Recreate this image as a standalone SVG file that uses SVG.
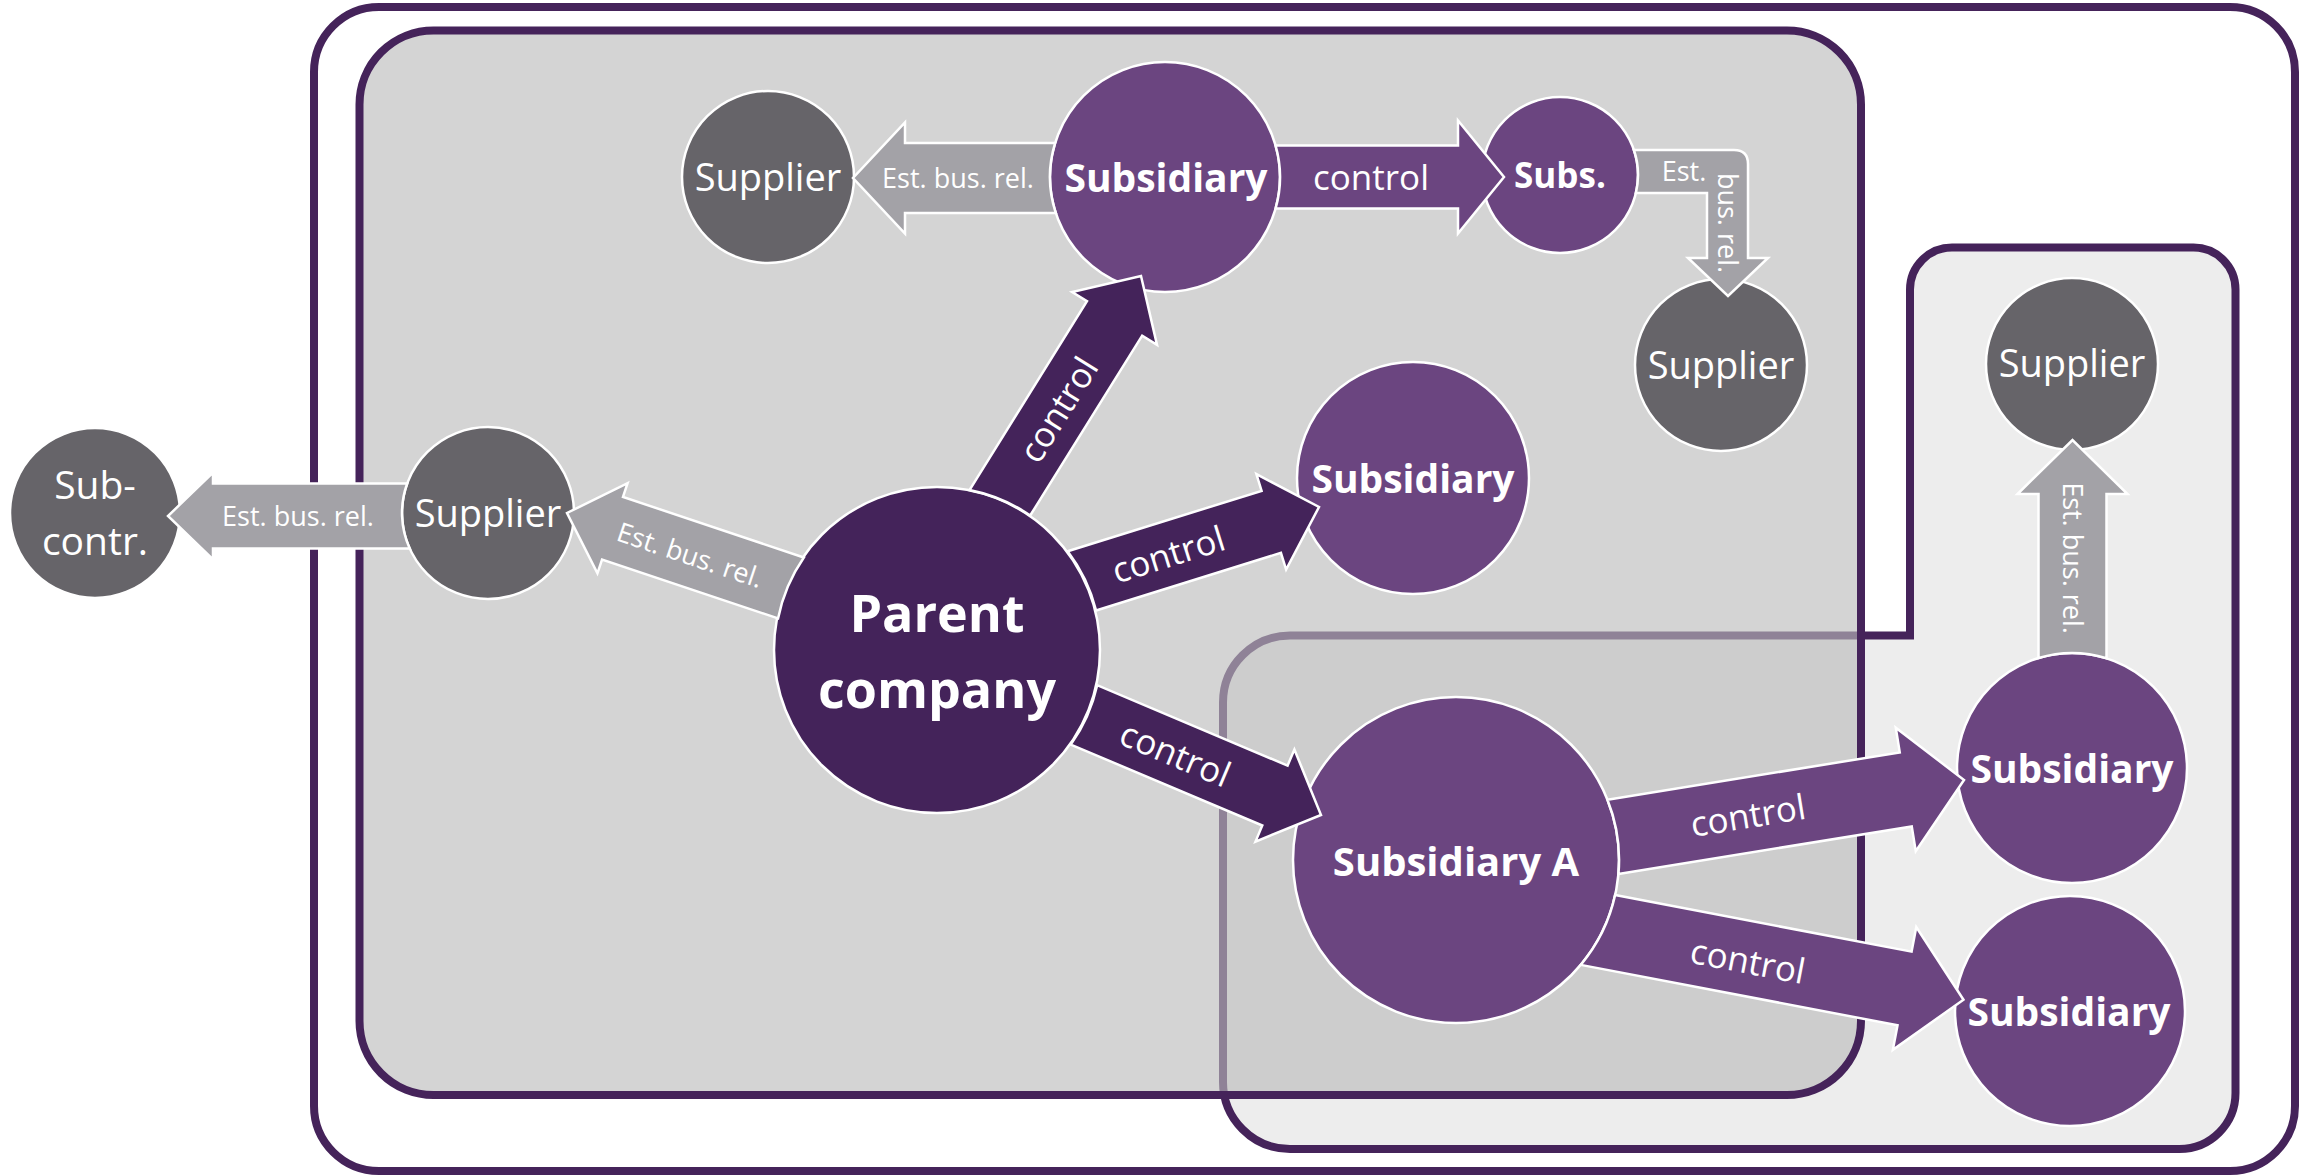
<svg xmlns="http://www.w3.org/2000/svg" width="2315" height="1175" viewBox="0 0 2315 1175">
  <defs>
    <style>
      .frame { stroke: #45235a; stroke-width: 8; }
      .node { stroke: #ffffff; stroke-width: 2.5; }
      .gray { fill: #666469; }
      .sub { fill: #6b4580; }
      .parent { fill: #44235a; }
      .t { fill: #ffffff; font-family: "Open Sans", "Noto Sans", "DejaVu Sans", sans-serif; text-anchor: middle; }
      .b { font-weight: bold; }
      .arrow { stroke: #ffffff; stroke-width: 2.5; stroke-linejoin: miter; }
      .ctl { fill: #44235a; }
      .ctl2 { fill: #6b4580; }
      .est { fill: #a3a2a7; }
      .lc { font-size: 35px; }
      .le { font-size: 27px; }
    </style>
  </defs>

  <!-- background -->
  <rect x="0" y="0" width="2315" height="1175" fill="#ffffff"/>

  <!-- scope frames -->
  <g id="frames">
    <rect id="frame-outer" class="frame" x="314" y="7" width="1981" height="1164" rx="65" ry="65" fill="#ffffff"/>
    <path id="frame-right" class="frame" fill="#ededed"
      d="M 1910,635.5 L 1910,289.5 A 42 42 0 0 1 1952,247.5 L 2193.5,247.5 A 42 42 0 0 1 2235.5,289.5 L 2235.5,1093 A 56 56 0 0 1 2179.5,1149 L 1290,1149 A 67 67 0 0 1 1223,1082 L 1223,702.5 A 67 67 0 0 1 1290,635.5 Z"/>
    <rect id="frame-group" class="frame" x="359.5" y="30.5" width="1501.5" height="1064.5" rx="74" ry="74" fill="#bbbbbb" fill-opacity="0.63"/>
  </g>

  <!-- nodes -->
  <g id="node-subcontractor">
    <circle class="gray node" cx="95" cy="513" r="85"/>
    <text class="t" font-size="39" x="95" y="499">Sub-</text>
    <text class="t" font-size="39" x="95" y="555">contr.</text>
  </g>
  <g id="node-supplier-left">
    <circle class="gray node" cx="488" cy="513" r="86"/>
    <text class="t" font-size="38" x="488" y="527">Supplier</text>
  </g>
  <g id="node-parent">
    <circle class="parent node" cx="937" cy="650" r="163"/>
    <text class="t b" font-size="52" x="937" y="632">Parent</text>
    <text class="t b" font-size="52" x="937" y="708">company</text>
  </g>
  <g id="node-supplier-top-left">
    <circle class="gray node" cx="768" cy="177" r="86"/>
    <text class="t" font-size="38" x="768" y="191">Supplier</text>
  </g>
  <g id="node-subsidiary-top">
    <circle class="sub node" cx="1165" cy="177" r="115"/>
    <text class="t b" font-size="39" x="1166" y="192">Subsidiary</text>
  </g>
  <g id="node-subs">
    <circle class="sub node" cx="1560" cy="175" r="78"/>
    <text class="t b" font-size="35" x="1560" y="188">Subs.</text>
  </g>
  <g id="node-supplier-below-subs">
    <circle class="gray node" cx="1721" cy="365" r="86"/>
    <text class="t" font-size="38" x="1721" y="379">Supplier</text>
  </g>
  <g id="node-subsidiary-mid">
    <circle class="sub node" cx="1413" cy="478" r="116"/>
    <text class="t b" font-size="39" x="1413" y="493">Subsidiary</text>
  </g>
  <g id="node-supplier-right">
    <circle class="gray node" cx="2072" cy="364" r="86"/>
    <text class="t" font-size="38" x="2072" y="377">Supplier</text>
  </g>
  <g id="node-subsidiary-a">
    <circle class="sub node" cx="1456" cy="860" r="163"/>
    <text class="t b" font-size="40" x="1456" y="876">Subsidiary A</text>
  </g>
  <g id="node-subsidiary-right-1">
    <circle class="sub node" cx="2072" cy="768" r="115"/>
    <text class="t b" font-size="39" x="2072" y="783">Subsidiary</text>
  </g>
  <g id="node-subsidiary-right-2">
    <circle class="sub node" cx="2070" cy="1011" r="115"/>
    <text class="t b" font-size="39" x="2069" y="1026">Subsidiary</text>
  </g>

  <!-- connectors: block arrows, each base follows its source circle -->
  <g id="connectors">
    <!-- parent -> subsidiary (top) -->
    <g transform="translate(1141,276) rotate(-58.1)">
      <path class="arrow ctl" d="M -261.9,32.5 L -50,32.5 L -50,50 L 0,0 L -50,-50 L -50,-32.5 L -272.3,-32.5 A 163 163 0 0 1 -261.9,32.5 Z"/>
      <text class="t lc" x="-157" y="13">control</text>
    </g>
    <!-- parent -> subsidiary (middle) -->
    <g transform="translate(1319,507) rotate(-17.3)">
      <path class="arrow ctl" d="M -243.6,32.5 L -50,32.5 L -50,50 L 0,0 L -50,-50 L -50,-32.5 L -253.1,-32.5 A 163 163 0 0 1 -243.6,32.5 Z"/>
      <text class="t lc" x="-158" y="13">control</text>
    </g>
    <!-- parent -> subsidiary A -->
    <g transform="translate(1321,815) rotate(22.9)">
      <path class="arrow ctl" d="M -257.9,32.5 L -50,32.5 L -50,50 L 0,0 L -50,-50 L -50,-32.5 L -256.7,-32.5 A 163 163 0 0 1 -257.9,32.5 Z"/>
      <text class="t lc" x="-158" y="13">control</text>
    </g>
    <!-- parent -> supplier (left) -->
    <g transform="translate(567,513) rotate(198.5)">
      <path class="arrow est" d="M -238.7,33 L -48,33 L -48,47.5 L 0,0 L -48,-47.5 L -48,-33 L -233.6,-33 A 163 163 0 0 1 -238.7,33 Z"/>
    </g>
    <text class="t le" transform="translate(690,555) rotate(18.5)" x="0" y="9.6">Est. bus. rel.</text>
    <!-- supplier (left) -> sub-contractor -->
    <g transform="translate(168,516) rotate(180)">
      <path class="arrow est" d="M -239.2,32.5 L -45,32.5 L -45,43.3 L 0,0 L -45,-43.3 L -45,-32.5 L -241.7,-32.5 A 86 86 0 0 1 -239.2,32.5 Z"/>
    </g>
    <text class="t le" x="298" y="526">Est. bus. rel.</text>
    <!-- subsidiary (top) -> supplier (top left) -->
    <g transform="translate(853,178) rotate(180)">
      <path class="arrow est" d="M -202.1,35 L -52,35 L -52,55.5 L 0,0 L -52,-55.5 L -52,-35 L -202.8,-35 A 115 115 0 0 1 -202.1,35 Z"/>
    </g>
    <text class="t le" x="958" y="187.5">Est. bus. rel.</text>
    <!-- subsidiary (top) -> subs. -->
    <g transform="translate(1504,177)">
      <path class="arrow ctl2" d="M -228.4,31.5 L -46,31.5 L -46,56.5 L 0,0 L -46,-56.5 L -46,-31.5 L -228.4,-31.5 A 115 115 0 0 1 -228.4,31.5 Z"/>
      <text class="t lc" x="-133" y="13">control</text>
    </g>
    <!-- subs. -> supplier (bent arrow) -->
    <path class="arrow est" d="M 1633.9,150 L 1734,150 Q 1748,150 1748,164 L 1748,258 L 1768,258 L 1728,296 L 1688,258 L 1707,258 L 1707,193 L 1635.9,193 A 78 78 0 0 0 1633.9,150 Z"/>
    <text class="t le" x="1684" y="181">Est.</text>
    <text class="t le" transform="translate(1727.6,223) rotate(90)" x="0" y="9.6">bus. rel.</text>
    <!-- subsidiary A -> subsidiary (right 1) -->
    <g transform="translate(1964,780) rotate(-9.2)">
      <path class="arrow ctl2" d="M -356.1,37.5 L -59,37.5 L -59,62.5 L 0,0 L -59,-62.5 L -59,-37.5 L -355.1,-37.5 A 163 163 0 0 1 -356.1,37.5 Z"/>
      <text class="t lc" x="-219" y="13">control</text>
    </g>
    <!-- subsidiary A -> subsidiary (right 2) -->
    <g transform="translate(1963.5,999.7) rotate(10.8)">
      <path class="arrow ctl2" d="M -382.5,37.5 L -60,37.5 L -60,62.5 L 0,0 L -60,-62.5 L -60,-37.5 L -361.8,-37.5 A 163 163 0 0 1 -382.5,37.5 Z"/>
      <text class="t lc" x="-219" y="15">control</text>
    </g>
    <!-- subsidiary (right 1) -> supplier (right) -->
    <g transform="translate(2072.5,440) rotate(-90)">
      <path class="arrow est" d="M -218.3,34 L -54,34 L -54,55 L 0,0 L -54,-55 L -54,-34 L -218,-34 A 115 115 0 0 1 -218.3,34 Z"/>
    </g>
    <text class="t le" transform="translate(2073,558) rotate(90)" x="0" y="9.6">Est. bus. rel.</text>
  </g>
</svg>
